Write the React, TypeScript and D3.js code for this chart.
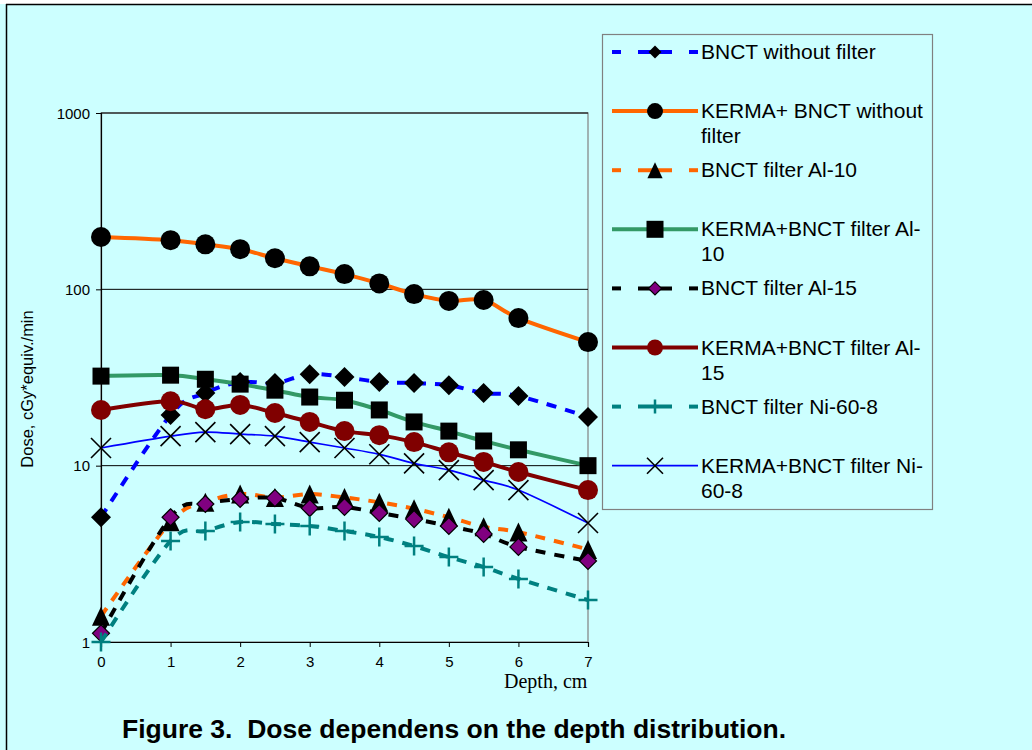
import { useEffect, useRef } from 'react'
import * as d3 from 'd3'

// depth points (cm) and dose values (cGy*equiv./min)
const depth = [0, 1, 1.5, 2, 2.5, 3, 3.5, 4, 4.5, 5, 5.5, 6, 7]
const bnctNoFilter = [5.1, 19.4, 25.8, 29.8, 29.4, 33, 31.8, 29.8, 29.4, 28.6, 25.8, 24.8, 18.9]
const kermaNoFilter = [198, 190, 180, 169, 150, 135, 122, 108, 94, 86, 87, 68.7, 50.2]
const bnctAl10 = [1.4, 4.8, 6.2, 6.9, 6.6, 6.9, 6.6, 6.2, 5.7, 5.1, 4.5, 4.2, 3.35]
const kermaAl10 = [32.2, 32.6, 30.9, 29, 26.8, 24.5, 23.5, 20.7, 17.7, 15.7, 13.8, 12.3, 10]
const bnctAl15 = [1.12, 5.1, 6.06, 6.47, 6.55, 5.75, 5.83, 5.39, 4.98, 4.55, 4.1, 3.46, 2.88]
const kermaAl15 = [20.7, 23.2, 20.9, 22.1, 19.9, 17.7, 15.7, 14.9, 13.6, 11.9, 10.5, 9.2, 7.27]
const bnctNi = [1.0, 3.74, 4.26, 4.79, 4.67, 4.55, 4.26, 3.94, 3.5, 3.03, 2.66, 2.28, 1.73]
const kermaNi = [12.6, 14.7, 15.5, 15.1, 14.7, 13.6, 12.6, 11.6, 10.3, 9.44, 8.28, 7.27, 4.73]

const xTicks = [0, 1, 2, 3, 4, 5, 6, 7]
const yTicks = [1, 10, 100, 1000]

const legendLabels = [
  ['BNCT without filter'],
  ['KERMA+ BNCT without', 'filter'],
  ['BNCT filter Al-10'],
  ['KERMA+BNCT filter Al-', '10'],
  ['BNCT filter Al-15'],
  ['KERMA+BNCT filter Al-', '15'],
  ['BNCT filter Ni-60-8'],
  ['KERMA+BNCT filter Ni-', '60-8'],
]

const SANS = "'Liberation Sans', Arial, sans-serif"
const SERIF = "'Liberation Serif', 'Times New Roman', serif"

type Marker = 'diamond' | 'circle' | 'triangle' | 'square' | 'plus' | 'x'

interface Series {
  values: number[]
  color: string
  dash: string | null
  width: number
  marker: Marker
  fill: string
  stroke: string
  size: number
  legendSize: number
}

const series: Series[] = [
  { values: bnctNoFilter, color: '#0000FF', dash: '10,9', width: 4, marker: 'diamond', fill: '#000', stroke: 'none', size: 20, legendSize: 13 },
  { values: kermaNoFilter, color: '#FF6600', dash: null, width: 4, marker: 'circle', fill: '#000', stroke: 'none', size: 20, legendSize: 16 },
  { values: bnctAl10, color: '#FF6600', dash: '10,9', width: 4, marker: 'triangle', fill: '#000', stroke: 'none', size: 19, legendSize: 16 },
  { values: kermaAl10, color: '#339966', dash: null, width: 4, marker: 'square', fill: '#000', stroke: 'none', size: 17, legendSize: 17 },
  { values: bnctAl15, color: '#000000', dash: '10,9', width: 4, marker: 'diamond', fill: '#800080', stroke: '#000', size: 17, legendSize: 13 },
  { values: kermaAl15, color: '#800000', dash: null, width: 4, marker: 'circle', fill: '#800000', stroke: 'none', size: 20, legendSize: 16 },
  { values: bnctNi, color: '#008080', dash: '10,9', width: 4, marker: 'plus', fill: 'none', stroke: '#008080', size: 19, legendSize: 14 },
  { values: kermaNi, color: '#0000FF', dash: null, width: 1.7, marker: 'x', fill: 'none', stroke: '#000', size: 20, legendSize: 16 },
]

function markerPath(type: Marker, s: number) {
  const h = s / 2
  switch (type) {
    case 'diamond':
      return `M0,${-h}L${h},0L0,${h}L${-h},0Z`
    case 'square':
      return `M${-h},${-h}H${h}V${h}H${-h}Z`
    case 'triangle':
      return `M0,${-h}L${h * 0.95},${h}L${-h * 0.95},${h}Z`
    case 'plus':
      return `M${-h},0H${h}M0,${-h}V${h}`
    case 'x':
      return `M${-h},${-h}L${h},${h}M${h},${-h}L${-h},${h}`
    case 'circle':
    default:
      return d3.arc()({ innerRadius: 0, outerRadius: h, startAngle: 0, endAngle: 2 * Math.PI }) as string
  }
}

function drawMarker(g: d3.Selection<SVGGElement, unknown, null, undefined>, s: Series, cx: number, cy: number, size: number) {
  const p = g.append('path')
    .attr('transform', `translate(${cx},${cy})`)
    .attr('d', markerPath(s.marker, size))
  if (s.marker === 'plus') {
    p.attr('fill', 'none').attr('stroke', s.stroke).attr('stroke-width', 2.5)
  } else if (s.marker === 'x') {
    p.attr('fill', 'none').attr('stroke', s.stroke).attr('stroke-width', 1.6)
  } else {
    p.attr('fill', s.fill)
      .attr('stroke', s.stroke)
      .attr('stroke-width', s.stroke === 'none' ? 0 : 1.2)
  }
}

export default function App() {
  const svgRef = useRef<SVGSVGElement>(null)
  const width = 1032
  const height = 750

  useEffect(() => {
    const svg = d3.select(svgRef.current)
    svg.selectAll('*').remove()

    // page background and outer frame
    svg.append('rect').attr('width', width).attr('height', height).attr('fill', '#CCFFFF')
    svg.append('rect').attr('width', width).attr('height', 4).attr('fill', '#fff')
    svg.append('line').attr('x1', 6).attr('x2', width).attr('y1', 4.5).attr('y2', 4.5)
      .attr('stroke', '#000').attr('stroke-width', 1.5)
    svg.append('line').attr('x1', 6.5).attr('x2', 6.5).attr('y1', 4).attr('y2', height)
      .attr('stroke', '#000').attr('stroke-width', 1.5)

    const x = d3.scaleLinear().domain([0, 7]).range([101, 588])
    const y = d3.scaleLog().domain([1, 1000]).range([642, 113])

    const g = svg.append('g')

    // plot area border
    g.append('rect')
      .attr('x', x(0)).attr('y', y(1000))
      .attr('width', x(7) - x(0)).attr('height', y(1) - y(1000))
      .attr('fill', 'none').attr('stroke', '#808080').attr('stroke-width', 1.2)

    // gridlines
    g.selectAll('line.grid')
      .data(yTicks.filter(d => d > 1))
      .join('line')
      .attr('class', 'grid')
      .attr('x1', x(0)).attr('x2', x(7))
      .attr('y1', d => y(d)).attr('y2', d => y(d))
      .attr('stroke', '#000').attr('stroke-width', 1)

    // y axis
    const yAxis = g.append('g')
      .attr('transform', `translate(${x(0)},0)`)
      .call(d3.axisLeft(y).tickValues(yTicks).tickFormat(d3.format('d')).tickSize(5).tickPadding(6))
    yAxis.select('.domain').attr('stroke', '#000').attr('stroke-width', 1.2)
    yAxis.selectAll('.tick line').attr('stroke', '#000')
    yAxis.selectAll('text')
      .attr('font-family', SANS).attr('font-size', 15).attr('fill', '#000').attr('dy', '0.34em')

    // x axis
    const xAxis = g.append('g')
      .attr('transform', `translate(0,${y(1)})`)
      .call(d3.axisBottom(x).tickValues(xTicks).tickFormat(d3.format('d')).tickSize(5).tickPadding(9))
    xAxis.select('.domain').attr('stroke', '#000').attr('stroke-width', 1.2)
    xAxis.selectAll('.tick line').attr('stroke', '#000')
    xAxis.selectAll('text')
      .attr('font-family', SANS).attr('font-size', 15).attr('fill', '#000')

    // axis titles
    svg.append('text')
      .attr('transform', `translate(33,389) rotate(-90)`)
      .attr('text-anchor', 'middle')
      .attr('font-family', SANS).attr('font-size', 16.5)
      .text('Dose, cGy*equiv./min')

    svg.append('text')
      .attr('x', 504).attr('y', 688)
      .attr('font-family', SERIF).attr('font-size', 20)
      .text('Depth, cm')

    // series lines (Excel-style smoothing) and markers
    const line = d3.line<number>()
      .x((_, i) => x(depth[i]))
      .y(d => y(d))
      .curve(d3.curveCardinal.tension(0))

    series.forEach(s => {
      const sg = g.append('g')
      sg.append('path')
        .attr('d', line(s.values))
        .attr('fill', 'none')
        .attr('stroke', s.color)
        .attr('stroke-width', s.width)
        .attr('stroke-dasharray', s.dash)
      s.values.forEach((v, i) => drawMarker(sg, s, x(depth[i]), y(v), s.size))
    })

    // legend
    const legend = svg.append('g')
    legend.append('rect')
      .attr('x', 602.5).attr('y', 34.5).attr('width', 330).attr('height', 475)
      .attr('fill', '#CCFFFF').attr('stroke', '#808080').attr('stroke-width', 1.2)

    const rowStep = 59.1
    series.forEach((s, i) => {
      const base = 59 + i * rowStep
      const ly = base - 7
      const row = legend.append('g')
      if (s.dash) {
        // Excel-like dashed sample: "- -◆- -"
        ;[[612, 621], [638, 672], [689, 698]].forEach(([a, b]) => {
          row.append('line')
            .attr('x1', a).attr('x2', b).attr('y1', ly).attr('y2', ly)
            .attr('stroke', s.color).attr('stroke-width', s.width)
        })
      } else {
        row.append('line')
          .attr('x1', 612).attr('x2', 698).attr('y1', ly).attr('y2', ly)
          .attr('stroke', s.color).attr('stroke-width', s.width)
      }
      drawMarker(row, s, 655, ly, s.legendSize)
      const t = row.append('text')
        .attr('font-family', SANS).attr('font-size', 21).attr('fill', '#000')
      legendLabels[i].forEach((txt, k) => {
        t.append('tspan').attr('x', 701).attr('y', base + k * 25).text(txt)
      })
    })

    // figure caption
    svg.append('text')
      .attr('x', 122).attr('y', 738)
      .attr('font-family', SANS).attr('font-size', 26.5).attr('font-weight', 'bold')
      .style('white-space', 'pre')
      .text('Figure 3.  Dose dependens on the depth distribution.')
  }, [])

  return (
    <div style={{ position: 'absolute', left: 0, top: 0 }}>
      <svg ref={svgRef} width={width} height={height} style={{ display: 'block' }} />
    </div>
  )
}
